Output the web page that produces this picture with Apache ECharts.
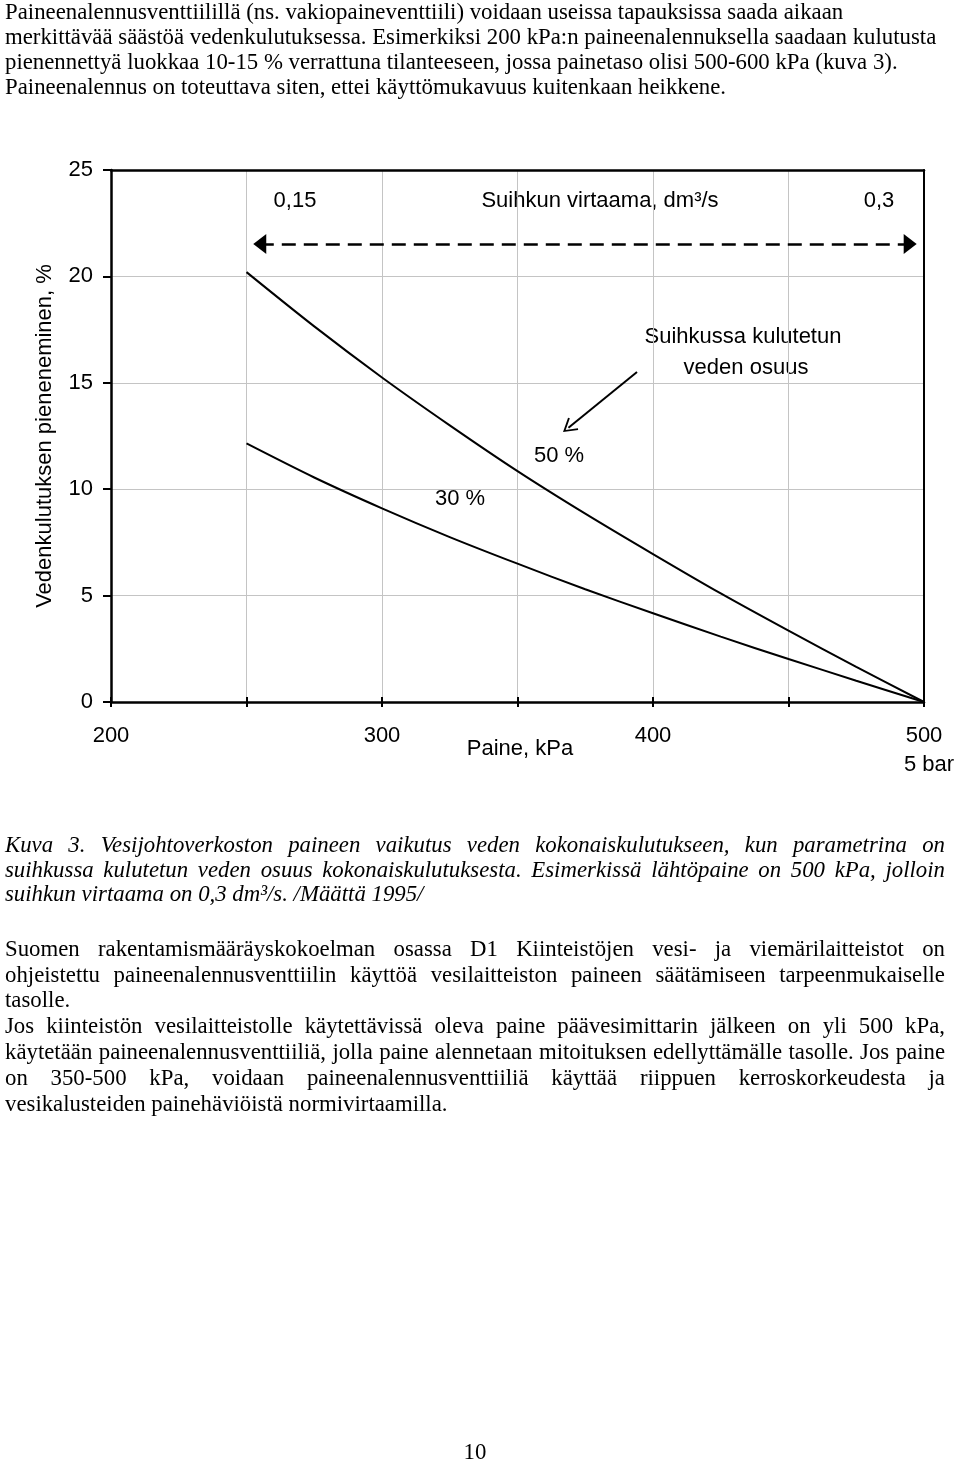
<!DOCTYPE html>
<html>
<head>
<meta charset="utf-8">
<script src="https://cdn.jsdelivr.net/npm/echarts@6/dist/echarts.min.js"></script>
<style>
  html, body { margin: 0; padding: 0; background: #fff; }
  #page { position: relative; width: 960px; height: 1462px; overflow: hidden; }
  #chart { position: absolute; left: 0; top: 0; width: 960px; height: 1462px; }
  .ln { position: absolute; left: 5px; font-family: "Liberation Serif", "Times New Roman", serif; font-size: 22.8px; line-height: 26px; color: #000; white-space: nowrap; }
  .it { font-style: italic; }
</style>
</head>
<body>
<div id="page">
  <div id="chart"></div>
  <div id="text"></div>
</div>
<script>
// ---- chart data ----
const pressure = [250, 275, 300, 325, 350, 375, 400, 425, 450, 475, 500];      // kPa
const share50 = [20.2, 17.65, 15.25, 13.0, 10.85, 8.85, 6.95, 5.1, 3.35, 1.65, 0]; // %
const share30 = [12.15, 10.55, 9.1, 7.75, 6.5, 5.3, 4.17, 3.07, 2.02, 1.0, 0];    // %
const xTickLabels = { 200: '200', 300: '300', 400: '400', 500: '500' };
const yTicks = [0, 5, 10, 15, 20, 25];
// annotation arrows (data coordinates: kPa, %)
const flowArrow = [[254.9, 21.52], [494.9, 21.52]];
const pointerArrow = [[394.1, 15.51], [368.8, 12.89]];

// ---- page text ----
const textLines = [
  { t: 'Paineenalennusventtiilillä (ns. vakiopaineventtiili) voidaan useissa tapauksissa saada aikaan', y: 12 },
  { t: 'merkittävää säästöä vedenkulutuksessa. Esimerkiksi 200 kPa:n paineenalennuksella saadaan kulutusta', y: 37 },
  { t: 'pienennettyä luokkaa 10-15 % verrattuna tilanteeseen, jossa painetaso olisi 500-600 kPa (kuva 3).', y: 62 },
  { t: 'Paineenalennus on toteuttava siten, ettei käyttömukavuus kuitenkaan heikkene.', y: 87 },
  { t: 'Kuva 3. Vesijohtoverkoston paineen vaikutus veden kokonaiskulutukseen, kun parametrina on', y: 845, j: true, i: true },
  { t: 'suihkussa kulutetun veden osuus kokonaiskulutuksesta. Esimerkissä lähtöpaine on 500 kPa, jolloin', y: 870, j: true, i: true },
  { t: 'suihkun virtaama on 0,3 dm³/s. /Määttä 1995/', y: 894, i: true },
  { t: 'Suomen rakentamismääräyskokoelman osassa D1 Kiinteistöjen vesi- ja viemärilaitteistot on', y: 949, j: true },
  { t: 'ohjeistettu paineenalennusventtiilin käyttöä vesilaitteiston paineen säätämiseen tarpeenmukaiselle', y: 975, j: true },
  { t: 'tasolle.', y: 1000 },
  { t: 'Jos kiinteistön vesilaitteistolle käytettävissä oleva paine päävesimittarin jälkeen on yli 500 kPa,', y: 1026, j: true },
  { t: 'käytetään paineenalennusventtiiliä, jolla paine alennetaan mitoituksen edellyttämälle tasolle. Jos paine', y: 1052, j: true },
  { t: 'on 350-500 kPa, voidaan paineenalennusventtiiliä käyttää riippuen kerroskorkeudesta ja', y: 1078, j: true },
  { t: 'vesikalusteiden painehäviöistä normivirtaamilla.', y: 1104 }
];
const textWidth = 940;

const textBox = document.getElementById('text');
textLines.forEach(function (l) {
  const d = document.createElement('div');
  d.className = 'ln' + (l.i ? ' it' : '');
  d.style.top = (l.y - 13) + 'px';
  const s = document.createElement('span');
  s.textContent = l.t;
  d.appendChild(s);
  textBox.appendChild(d);
  if (l.j) {
    const w = s.getBoundingClientRect().width;
    const n = (l.t.match(/ /g) || []).length;
    if (n > 0) d.style.wordSpacing = ((textWidth - w) / n) + 'px';
  }
});
const pn = document.createElement('div');
pn.className = 'ln';
pn.style.left = '0px';
pn.style.width = '950px';
pn.style.textAlign = 'center';
pn.style.top = (1452 - 13) + 'px';
pn.textContent = '10';
textBox.appendChild(pn);

// ---- chart ----
const chart = echarts.init(document.getElementById('chart'), null, { renderer: 'canvas' });
const sans = '"Liberation Sans", Arial, sans-serif';
const fs = 22;
const chevron = 'path://M0,0 L8,13 L6.4,14 L0,3.4 L-6.4,14 L-8,13 Z';

function txt(text, x, y, align) {
  return {
    type: 'text', x: x, y: y, silent: true,
    style: { text: text, fill: '#000', font: fs + 'px ' + sans, align: align || 'center', verticalAlign: 'middle' }
  };
}

chart.setOption({
  animation: false,
  backgroundColor: 'transparent',
  grid: { left: 111, top: 170, right: 36, bottom: 760, containLabel: false },
  xAxis: [
    {
      type: 'value', min: 200, max: 500, interval: 50, position: 'bottom',
      axisLine: { show: true, onZero: false, lineStyle: { color: '#000', width: 2.5 } },
      axisTick: { show: true, length: 5, lineStyle: { color: '#000', width: 2 } },
      axisLabel: {
        show: true, margin: 19, color: '#000', fontSize: fs, fontFamily: sans, lineHeight: 29,
        formatter: function (v) {
          if (v === 500) return '{a|500}\n{b|5 bar}';
          return xTickLabels[v] ? '{a|' + xTickLabels[v] + '}' : '';
        },
        rich: {
          a: { fontSize: fs, fontFamily: sans, color: '#000', lineHeight: 29 },
          b: { fontSize: fs, fontFamily: sans, color: '#000', lineHeight: 29, padding: [0, 0, 0, 10] }
        }
      },
      splitLine: { show: true, lineStyle: { color: '#c4c4c4', width: 1 } }
    },
    {
      type: 'value', min: 200, max: 500, interval: 50, position: 'bottom',
      axisLine: { show: false, onZero: false },
      axisTick: { show: true, inside: true, length: 5, lineStyle: { color: '#000', width: 2 } },
      axisLabel: { show: false }, splitLine: { show: false }
    },
    {
      type: 'value', min: 200, max: 500, position: 'top',
      axisLine: { show: true, onZero: false, lineStyle: { color: '#000', width: 2.5 } },
      axisTick: { show: false }, axisLabel: { show: false }, splitLine: { show: false }
    }
  ],
  yAxis: [
    {
      type: 'value', min: 0, max: 25, interval: 5, position: 'left',
      axisLine: { show: true, onZero: false, lineStyle: { color: '#000', width: 2.5 } },
      axisTick: { show: true, length: 8, lineStyle: { color: '#000', width: 2 } },
      axisLabel: {
        margin: 18, color: '#000', fontSize: fs, fontFamily: sans,
        formatter: function (v) { return yTicks.indexOf(v) >= 0 ? String(v) : ''; }
      },
      splitLine: { show: true, lineStyle: { color: '#c4c4c4', width: 1 } }
    },
    {
      type: 'value', min: 0, max: 25, position: 'right',
      axisLine: { show: true, onZero: false, lineStyle: { color: '#000', width: 2 } },
      axisTick: { show: false }, axisLabel: { show: false }, splitLine: { show: false }
    }
  ],
  series: [
    {
      name: '50 %', type: 'line', xAxisIndex: 0, yAxisIndex: 0,
      data: pressure.map(function (p, i) { return [p, share50[i]]; }),
      smooth: 0.3, showSymbol: false, symbol: 'none', silent: true,
      lineStyle: { color: '#000', width: 2 },
      markLine: {
        silent: true, animation: false,
        symbol: ['triangle', 'triangle'], symbolSize: [20, 13],
        label: { show: false },
        lineStyle: { color: '#000', width: 2.7, type: [14, 8] },
        emphasis: { disabled: true },
        data: [[{ coord: flowArrow[0] }, { coord: flowArrow[1] }]]
      }
    },
    {
      name: '30 %', type: 'line', xAxisIndex: 0, yAxisIndex: 0,
      data: pressure.map(function (p, i) { return [p, share30[i]]; }),
      smooth: 0.3, showSymbol: false, symbol: 'none', silent: true,
      lineStyle: { color: '#000', width: 2 },
      markLine: {
        silent: true, animation: false,
        symbol: ['none', chevron], symbolSize: [16, 14],
        label: { show: false },
        lineStyle: { color: '#000', width: 2, type: 'solid' },
        emphasis: { disabled: true },
        data: [[{ coord: pointerArrow[0] }, { coord: pointerArrow[1] }]]
      }
    }
  ],
  graphic: [
    txt('0,15', 295, 201),
    txt('Suihkun virtaama, dm³/s', 600, 201),
    txt('0,3', 879, 201),
    txt('Suihkussa kulutetun', 743, 337),
    txt('veden osuus', 746, 368),
    txt('50 %', 559, 456),
    txt('30 %', 460, 499),
    txt('Paine, kPa', 520, 749),
    {
      type: 'text', x: 45, y: 436, rotation: Math.PI / 2, silent: true,
      style: { text: 'Vedenkulutuksen pieneneminen, %', fill: '#000', font: fs + 'px ' + sans, align: 'center', verticalAlign: 'middle' }
    }
  ]
});
</script>
</body>
</html>
